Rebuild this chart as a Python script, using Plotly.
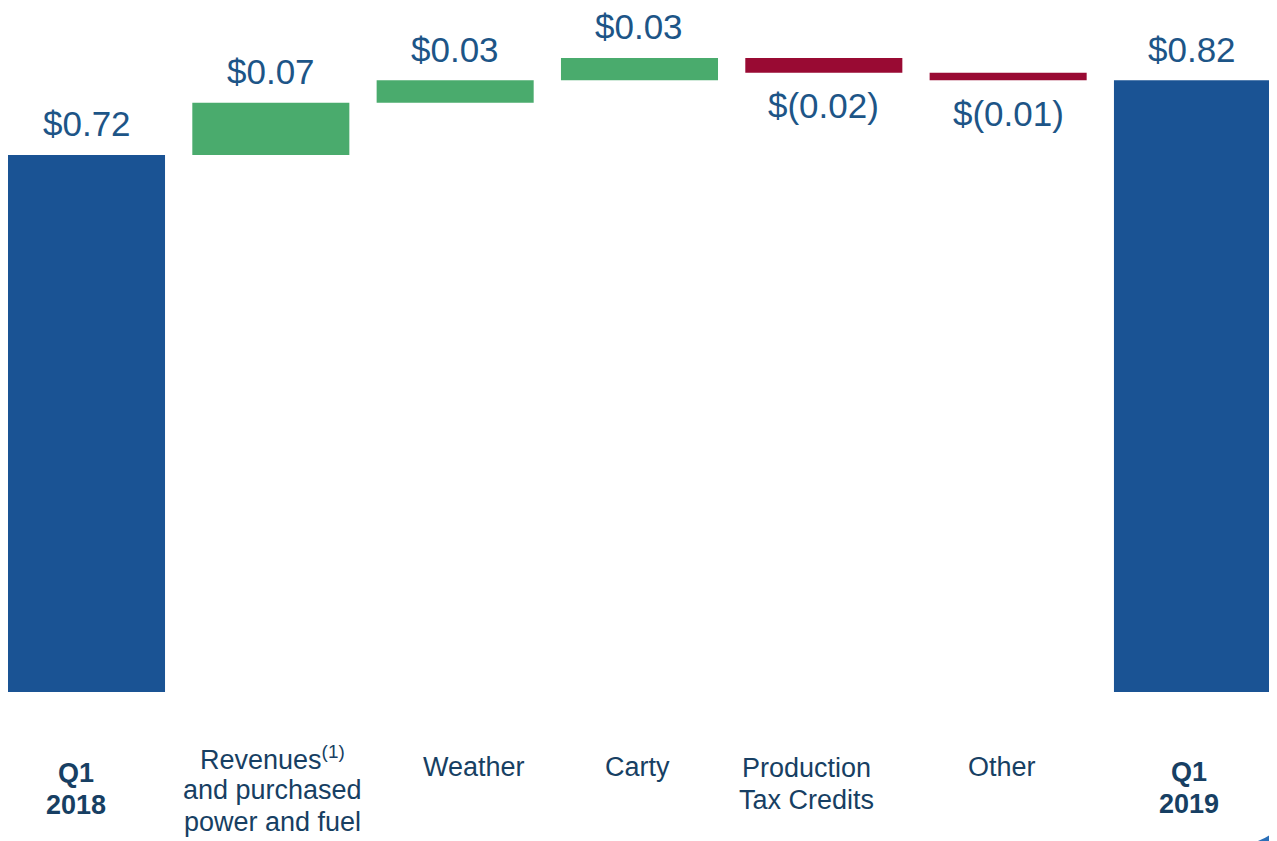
import plotly.graph_objects as go

# ---- data ----
categories = ["Q1 2018", "Revenues", "Weather", "Carty", "PTC", "Other", "Q1 2019"]
tick_labels = [
    "<b>Q1<br>2018</b>",
    "Revenues<sup>(1)</sup><br>and purchased<br>power and fuel",
    "Weather",
    "Carty",
    "Production<br>Tax Credits",
    "Other",
    "<b>Q1<br>2019</b>",
]
values = [0.72, 0.07, 0.03, 0.03, -0.02, -0.01, 0.82]
measures = ["absolute", "relative", "relative", "relative", "relative", "relative", "total"]
value_labels = ["$0.72", "$0.07", "$0.03", "$0.03", "$(0.02)", "$(0.01)", "$0.82"]

# ---- style / layout config ----
BODY = 8                      # default page margin of the html body
W, H = 1277 - BODY, 841 - BODY
PLOT_BOTTOM_PAGE = 692        # page y of the zero line
PLOT_H = PLOT_BOTTOM_PAGE - BODY
MB = H - PLOT_H
PX_PER_UNIT = 746.0
CAT_SPACING = 184.33
FIRST_CENTER_PAGE = 86.5

first_line_center_px = [773, 758, 767, 767, 768, 767, 772]
label_xshift_px = [-11, 2, 19, -2, -17, -6, -3]
LINE_STEP = 32

BLUE = "#1a5394"
GREEN = "#4aab6d"
RED = "#990a33"
VAL_COLOR = "#1d5587"
CAT_COLOR = "#173f63"
FONT = "Liberation Sans, Arial, sans-serif"

fig = go.Figure(go.Waterfall(
    x=categories,
    y=values,
    measure=measures,
    increasing=dict(marker=dict(color=GREEN)),
    decreasing=dict(marker=dict(color=RED)),
    totals=dict(marker=dict(color=BLUE)),
    connector=dict(visible=False),
    hoverinfo="skip",
))

# running ends for value label placement
ends = []
run = 0.0
for m, v in zip(measures, values):
    if m == "absolute":
        run = v
    elif m == "relative":
        run += v
    ends.append(run)

annotations = []
for i, (c, v, lab) in enumerate(zip(categories, values, value_labels)):
    annotations.append(dict(x=c, y=ends[i], xref="x", yref="y", text=lab,
                            showarrow=False, yanchor="middle",
                            yshift=31 if v >= 0 else -33,
                            font=dict(size=35, color=VAL_COLOR, family=FONT)))

for c, t, py, dx in zip(categories, tick_labels, first_line_center_px, label_xshift_px):
    bold = t.startswith("<b>")
    lines = t.replace("<b>", "").replace("</b>", "").split("<br>")
    for j, line in enumerate(lines):
        txt = f"<b>{line}</b>" if bold else line
        ypx = py + j * LINE_STEP
        annotations.append(dict(x=c, y=0, xref="x", yref="paper", text=txt,
                                showarrow=False, yanchor="middle",
                                xshift=dx, yshift=-(ypx - PLOT_BOTTOM_PAGE),
                                font=dict(size=27, color=CAT_COLOR, family=FONT)))

x_left = -(FIRST_CENTER_PAGE - BODY) / CAT_SPACING
x_right = x_left + W / CAT_SPACING

fig.update_layout(
    width=W, height=H,
    margin=dict(l=0, r=0, t=0, b=MB, pad=0),
    paper_bgcolor="white", plot_bgcolor="white",
    showlegend=False,
    waterfallgap=0.148,
    annotations=annotations,
    xaxis=dict(range=[x_left, x_right], showticklabels=False, showgrid=False,
               zeroline=False, showline=False, ticks=""),
    yaxis=dict(range=[0, PLOT_H / PX_PER_UNIT], showticklabels=False, showgrid=False,
               zeroline=False, showline=False, ticks=""),
    shapes=[dict(type="path", xref="paper", yref="paper",
                 path="M 0.985 -0.2178 Q 0.997 -0.21 1.0 -0.196 L 1.0 -0.2178 Z",
                 fillcolor="#2a6fb8", line=dict(width=0))],
)

fig.write_html("out.html")
